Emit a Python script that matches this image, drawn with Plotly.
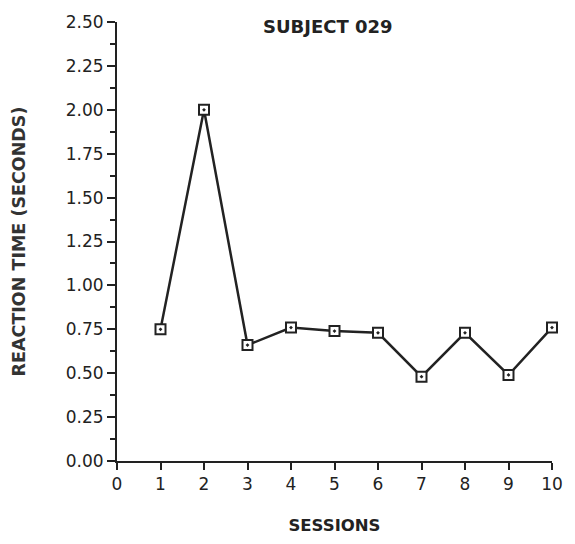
import plotly.graph_objects as go

# Mean reaction time per session for one subject
sessions = [1, 2, 3, 4, 5, 6, 7, 8, 9, 10]
reaction_time = [0.75, 2.00, 0.66, 0.76, 0.74, 0.73, 0.48, 0.73, 0.49, 0.76]

y_tick_vals = [0, 0.25, 0.5, 0.75, 1.0, 1.25, 1.5, 1.75, 2.0, 2.25, 2.5]
y_tick_text = ["0.00", "0.25", "0.50", "0.75", "1.00", "1.25", "1.50", "1.75", "2.00", "2.25", "2.50"]
x_tick_vals = [0, 1, 2, 3, 4, 5, 6, 7, 8, 9, 10]

font_family = "DejaVu Sans, Verdana, sans-serif"
ink = "#222222"

fig = go.Figure(
    go.Scatter(
        x=sessions,
        y=reaction_time,
        mode="lines+markers",
        line=dict(color=ink, width=2.5),
        marker=dict(symbol="square-dot", size=10, color="white",
                    line=dict(color=ink, width=2)),
        cliponaxis=False,
    )
)

fig.update_layout(
    width=575,
    height=544,
    margin=dict(l=117, r=19, t=22, b=82),
    paper_bgcolor="white",
    plot_bgcolor="white",
    showlegend=False,
    font=dict(family=font_family, color=ink, size=17),
    annotations=[
        dict(text="<b>SUBJECT 029</b>", x=0.485, xref="paper", y=1.0, yref="paper",
             yanchor="middle", yshift=-4, showarrow=False,
             font=dict(size=18, color=ink)),
    ],
)

fig.update_xaxes(
    range=[0, 10],
    tickvals=x_tick_vals,
    ticks="outside",
    ticklen=7,
    tickwidth=2,
    tickcolor=ink,
    showline=True,
    linecolor=ink,
    linewidth=2,
    showgrid=False,
    zeroline=False,
    tickfont=dict(size=17, color=ink),
    title=dict(text="<b>SESSIONS</b>", font=dict(size=16.5, color=ink), standoff=26),
)

fig.update_yaxes(
    range=[0, 2.5],
    tickvals=y_tick_vals,
    ticktext=y_tick_text,
    ticks="outside",
    ticklen=8,
    tickwidth=2,
    tickcolor=ink,
    minor=dict(dtick=0.125, ticks="outside", ticklen=5, tickwidth=2,
               tickcolor=ink, showgrid=False),
    showline=True,
    linecolor=ink,
    linewidth=2,
    showgrid=False,
    zeroline=False,
    tickfont=dict(size=17, color=ink),
    title=dict(text="<b>REACTION TIME (SECONDS)</b>", font=dict(size=17.5, color="#333333"),
               standoff=36),
)

fig.write_html("out.html")
